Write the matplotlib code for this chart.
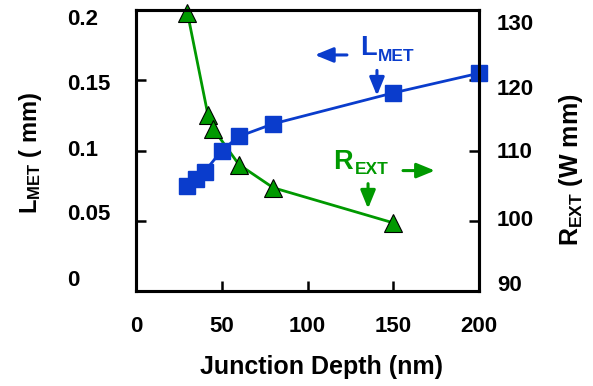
import matplotlib
matplotlib.use('Agg')
import matplotlib.pyplot as plt
from matplotlib.transforms import ScaledTranslation

plt.rcParams['font.family'] = ['Liberation Sans', 'DejaVu Sans']
plt.rcParams['font.weight'] = 'bold'
plt.rcParams['mathtext.default'] = 'regular'

# junction depth (nm) vs. L_MET (um) and R_EXT
depth_lmet = [30, 35, 40, 50, 60, 80, 150, 200]
lmet = [0.075, 0.080, 0.085, 0.100, 0.110, 0.119, 0.141, 0.155]

depth_rext = [30, 42, 45, 60, 80, 150]
rext = [129.6, 115.0, 113.1, 108.0, 104.7, 99.7]

xticks = [0, 50, 100, 150, 200]
lticks = [0, 0.05, 0.1, 0.15, 0.2]
lticklabels = ['0', '0.05', '0.1', '0.15', '0.2']
rticks = [90, 100, 110, 120, 130]

blue = '#0A3CCC'
green = '#009900'

fig = plt.figure(figsize=(5.93, 3.86), dpi=100)
ax = fig.add_axes([136 / 593, 1 - 291 / 386, 343 / 593, 281 / 386])
ax2 = ax.twinx()
# left axis drawn on top so the squares sit over the green curve
ax.set_zorder(ax2.get_zorder() + 1)
ax.patch.set_visible(False)

ax2.plot(depth_rext, rext, color=green, lw=2, marker='^', ms=13.5,
         mfc=green, mec='black', mew=0.8, clip_on=False)
ax.plot(depth_lmet, lmet, color=blue, lw=2, marker='s', ms=11.5,
        mfc=blue, mec=blue, clip_on=False)

ax.set_xlim(0, 200)
ax.set_ylim(0, 0.2)
ax2.set_ylim(90, 130)
ax.set_xticks(xticks)
ax.set_xticklabels([str(v) for v in xticks])
ax.set_yticks(lticks)
ax.set_yticklabels(lticklabels)
ax2.set_yticks(rticks)
ax2.set_yticklabels([str(v) for v in rticks])

for a in (ax, ax2):
    for s in a.spines.values():
        s.set_linewidth(2.2)
ax.tick_params(axis='both', direction='in', length=7, width=1.8, labelsize=16)
# left tick labels are flush-left in a column
ax.tick_params(axis='y', pad=49.7)
ax.tick_params(axis='x', pad=18)
ax2.tick_params(axis='y', direction='in', length=7, width=1.8, labelsize=16, pad=13)

# tick label columns are spaced a little tighter than the ticks (points, + is up)
left_shift = [9, 6, 1.5, -1.5, -5]
right_shift = [6, 2, 0, -5, -8.5]
for tick, dy in zip(ax.yaxis.get_major_ticks(), left_shift):
    lab = tick.label1
    lab.set_horizontalalignment('left')
    lab.set_transform(lab.get_transform() + ScaledTranslation(0, dy / 72, fig.dpi_scale_trans))
for tick, dy in zip(ax2.yaxis.get_major_ticks(), right_shift):
    lab = tick.label2
    lab.set_transform(lab.get_transform() + ScaledTranslation(0, dy / 72, fig.dpi_scale_trans))

ax.set_xlabel('Junction Depth (nm)', fontsize=18, fontweight='bold')
ax.xaxis.set_label_coords(0.542, -0.228)
ax.set_ylabel('L$_{MET}$ ( mm)', fontsize=17, fontweight='bold')
ax.yaxis.set_label_coords(-0.268, 0.49)
ax2.set_ylabel('R$_{EXT}$ (W mm)', fontsize=18, fontweight='bold')
ax2.yaxis.set_label_coords(1.227, 0.43)

# series callouts
ax.text(130.6, 0.168, 'L', color=blue, fontsize=19.5, fontweight='bold')
ax.text(141.0, 0.164, 'MET', color=blue, fontsize=12.5, fontweight='bold')
ax.text(114.9, 0.0871, 'R', color=green, fontsize=19.5, fontweight='bold')
ax.text(127.7, 0.0836, 'EXT', color=green, fontsize=12.5, fontweight='bold')

arrow = '-|>,head_length=1.1,head_width=0.45'
ax.annotate('', xy=(104.3, 0.168), xytext=(123.0, 0.168),
            arrowprops=dict(arrowstyle=arrow, color=blue, lw=2.2,
                            shrinkA=0, shrinkB=0))
ax.annotate('', xy=(140.5, 0.139), xytext=(140.5, 0.157),
            arrowprops=dict(arrowstyle=arrow, color=blue, lw=2.2,
                            shrinkA=0, shrinkB=0))
ax.annotate('', xy=(174.3, 0.0857), xytext=(155.7, 0.0857),
            arrowprops=dict(arrowstyle=arrow, color=green, lw=2.2,
                            shrinkA=0, shrinkB=0))
ax.annotate('', xy=(135.3, 0.0586), xytext=(135.3, 0.0764),
            arrowprops=dict(arrowstyle=arrow, color=green, lw=2.2,
                            shrinkA=0, shrinkB=0))

fig.savefig('out.png', dpi=100)
